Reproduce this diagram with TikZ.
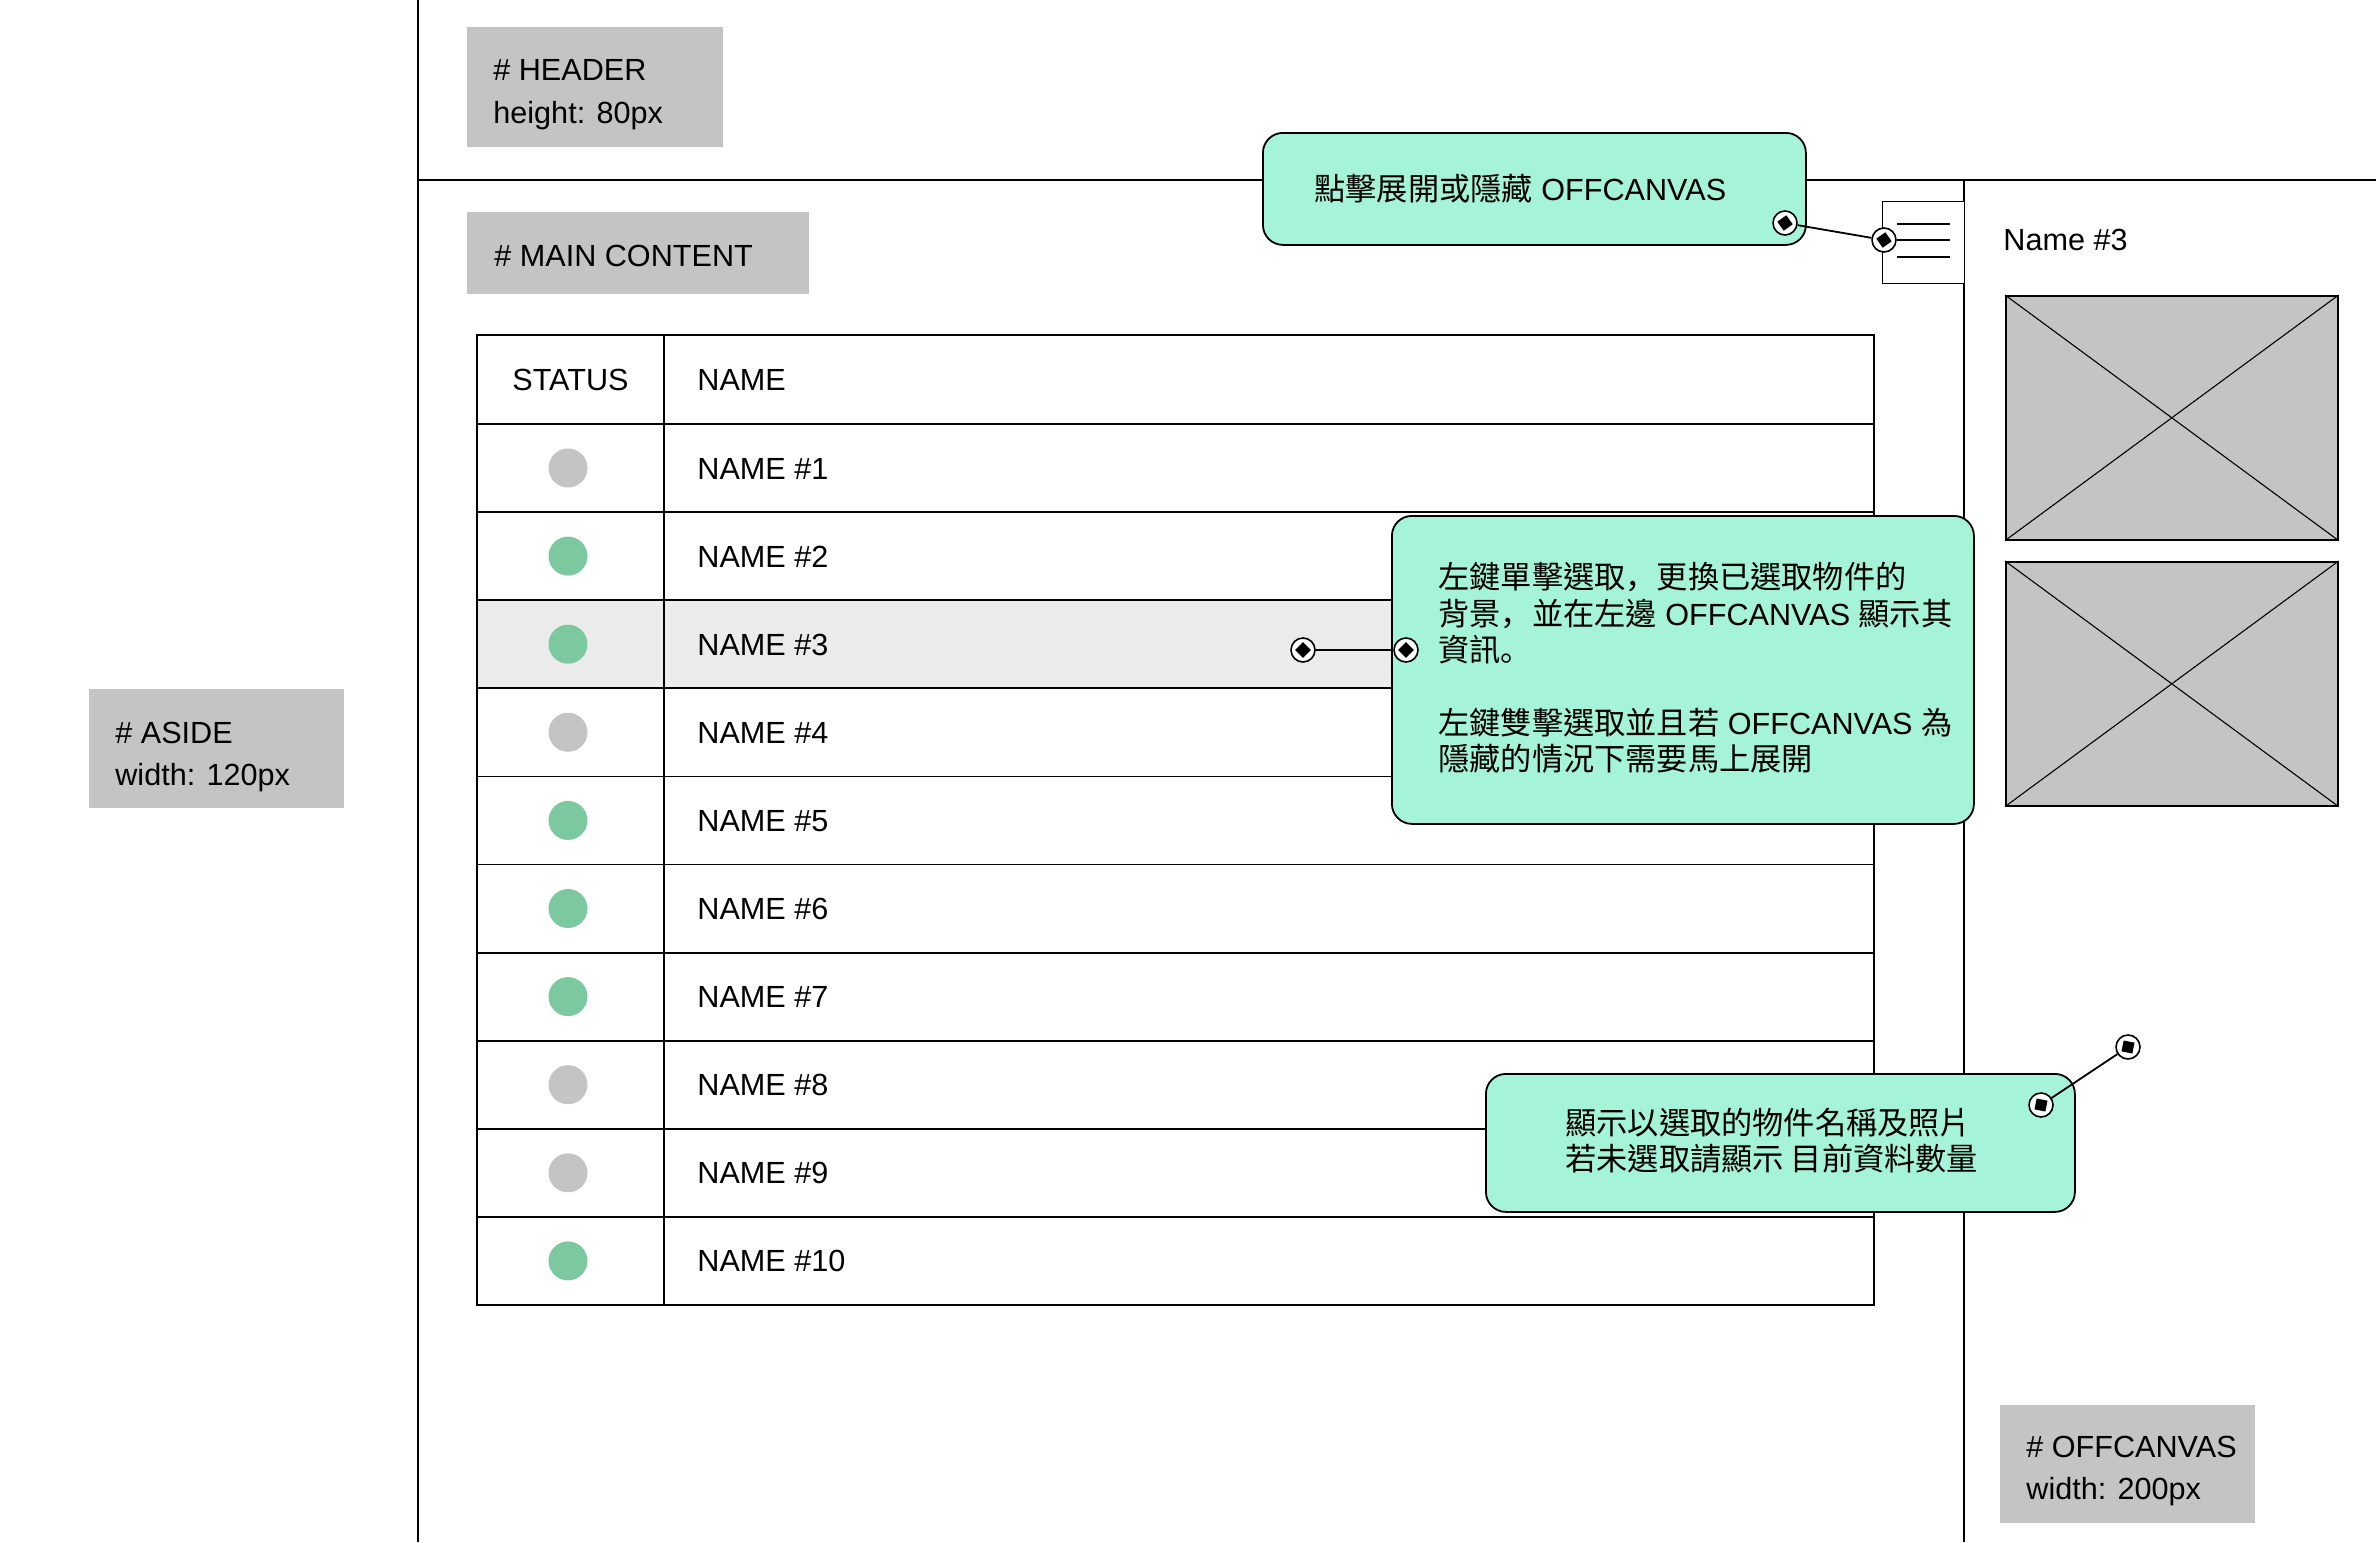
\documentclass[tikz,border=0pt]{standalone}
\usepackage{fontspec}
\setmainfont{Liberation Sans}
\newfontfamily\cjk{Noto Sans CJK TC}[Scale=1.02]
\newfontfamily\cjkp{Noto Sans CJK JP}[Scale=1.02]
\usetikzlibrary{shapes.geometric}
\definecolor{boxgray}{HTML}{C4C4C4}
\definecolor{dotgreen}{HTML}{7CC9A0}
\definecolor{mint}{HTML}{A5F3D8}
\definecolor{rowhi}{HTML}{EBEBEB}
\newcommand\cj[1]{{\cjk #1}}
\newcommand\cjpunct[1]{{\cjkp #1}}
\tikzset{
  lbl/.style={anchor=base west, inner sep=0pt, font=\fontsize{15.3}{18}\selectfont},
  graybox/.style={fill=boxgray, draw=none, anchor=north west, inner sep=0pt},
  callout/.style={fill=mint, draw=black, line width=0.9pt, rounded corners=10pt, anchor=north west, inner sep=0pt},
  frame/.style={line width=0.9pt},
  thinline/.style={line width=0.55pt},
  mk/.style={circle, draw=black, fill=white, line width=0.8pt, minimum size=12pt, inner sep=0pt},
  mkd/.style={diamond, fill=black, inner sep=0pt, minimum size=8pt},
  dotg/.style={circle, fill=dotgreen, minimum size=19.5pt, inner sep=0pt},
  dotn/.style={circle, fill=boxgray, minimum size=19.5pt, inner sep=0pt},
  imgbox/.style={fill=boxgray, draw=black, line width=0.8pt, anchor=north west, inner sep=0pt, minimum width=166pt, minimum height=122pt},
  burger/.style={fill=white, draw=black, line width=0.7pt, anchor=north west, inner sep=0pt, minimum width=41pt, minimum height=41pt},
}
\begin{document}
\begin{tikzpicture}[x=0.5pt, y=-0.5pt]
\fill[white] (0,0) rectangle (2376,1542);
\useasboundingbox (0,0) rectangle (2376,1542);

% layout frame lines
\draw[frame] (418,0) -- (418,1542);
\draw[frame] (418,180) -- (2376,180);
\draw[frame] (1964,180) -- (1964,1542);

% table
\fill[rowhi] (477,600) rectangle (1874,688);
\draw[frame] (477,335) rectangle (1874,1305);
\draw[frame] (477,424) -- (1874,424);
\foreach \k in {1,...,9}{
  \pgfmathsetmacro\yl{424+88.1*\k}
  \draw[frame] (477,\yl) -- (1874,\yl);
}
\draw[frame] (664,335) -- (664,1305);
\node[lbl] (hstatus) at (512,390) {STATUS};
\node[lbl] (hname) at (697,390) {NAME};
\foreach \k/\st in {1/dotn,2/dotg,3/dotg,4/dotn,5/dotg,6/dotg,7/dotg,8/dotn,9/dotn,10/dotg}{
  \pgfmathsetmacro\yc{468+88.1*(\k-1)}
  \node[\st] (s\k) at (568,\yc) {};
  \node[lbl] (n\k) at (697,\yc+11) {NAME \#\k};
}

% hamburger
\node[burger] (ham) at (1882,201) {};
\draw[thinline] (1897,224) -- (1950,224);
\draw[thinline] (1897,240) -- (1950,240);
\draw[thinline] (1897,257) -- (1950,257);

% offcanvas content
\node[lbl] (name3) at (2003,250) {Name \#3};
\node[imgbox] (img1) at (2005,295) {};
\draw[thinline] (img1.north west) -- (img1.south east);
\draw[thinline] (img1.south west) -- (img1.north east);
\node[imgbox] (img2) at (2005,561) {};
\draw[thinline] (img2.north west) -- (img2.south east);
\draw[thinline] (img2.south west) -- (img2.north east);

% gray label boxes
\node[graybox, minimum width=128pt, minimum height=60pt] (bheader) at (467,27) {};
\node[lbl] (theader1) at (493,80) {\# HEADER};
\node[lbl] (theader2) at (493,123) {height: 80px};
\node[graybox, minimum width=171pt, minimum height=41pt] (bmain) at (467,212) {};
\node[lbl] (tmain) at (494,266) {\# MAIN CONTENT};
\node[graybox, minimum width=127.5pt, minimum height=59.5pt] (baside) at (89,689) {};
\node[lbl] (taside1) at (115,743) {\# ASIDE};
\node[lbl] (taside2) at (115,785) {width: 120px};
\node[graybox, minimum width=127.5pt, minimum height=59pt] (boff) at (2000,1405) {};
\node[lbl] (toff1) at (2026,1457) {\# OFFCANVAS};
\node[lbl] (toff2) at (2026,1499) {width: 200px};

% callouts
\node[callout, minimum width=271.5pt, minimum height=56pt] (c1) at (1262,132) {};
\node[lbl] (c1t) at (1314,200) {\cj{點擊展開或隱藏} OFFCANVAS};

\node[callout, minimum width=291pt, minimum height=154pt] (c2) at (1391,515) {};
\node[lbl] (c2t1) at (1438,588) {\cj{左鍵單擊選取}\cjpunct{，}\cj{更換已選取物件的}};
\node[lbl] (c2t2) at (1438,625) {\cj{背景}\cjpunct{，}\cj{並在左邊} OFFCANVAS \cj{顯示其}};
\node[lbl] (c2t3) at (1438,661) {\cj{資訊}\cjpunct{。}};
\node[lbl] (c2t4) at (1438,734) {\cj{左鍵雙擊選取並且若} OFFCANVAS \cj{為}};
\node[lbl] (c2t5) at (1438,770) {\cj{隱藏的情況下需要馬上展開}};

\node[callout, minimum width=294.5pt, minimum height=69pt] (c3) at (1485,1073) {};
\node[lbl] (c3t1) at (1565,1134) {\cj{顯示以選取的物件名稱及照片}};
\node[lbl] (c3t2) at (1565,1170) {\cj{若未選取請顯示 目前資料數量}};

% connectors with markers
\node[mk] (m1a) at (1785,223) {};
\node[mkd, rotate=-9.7] (m1ad) at (m1a) {};
\node[mk] (m1b) at (1884,240) {};
\node[mkd, rotate=-9.7] (m1bd) at (m1b) {};
\draw[frame] (m1a) -- (m1b);

\node[mk] (m2a) at (1303,650) {};
\node[mkd] (m2ad) at (m2a) {};
\node[mk] (m2b) at (1406,650) {};
\node[mkd] (m2bd) at (m2b) {};
\draw[frame] (m2a) -- (m2b);

\node[mk] (m3a) at (2041,1105) {};
\node[mkd, rotate=33.7] (m3ad) at (m3a) {};
\node[mk] (m3b) at (2128,1047) {};
\node[mkd, rotate=33.7] (m3bd) at (m3b) {};
\draw[frame] (m3a) -- (m3b);
\end{tikzpicture}
\end{document}
